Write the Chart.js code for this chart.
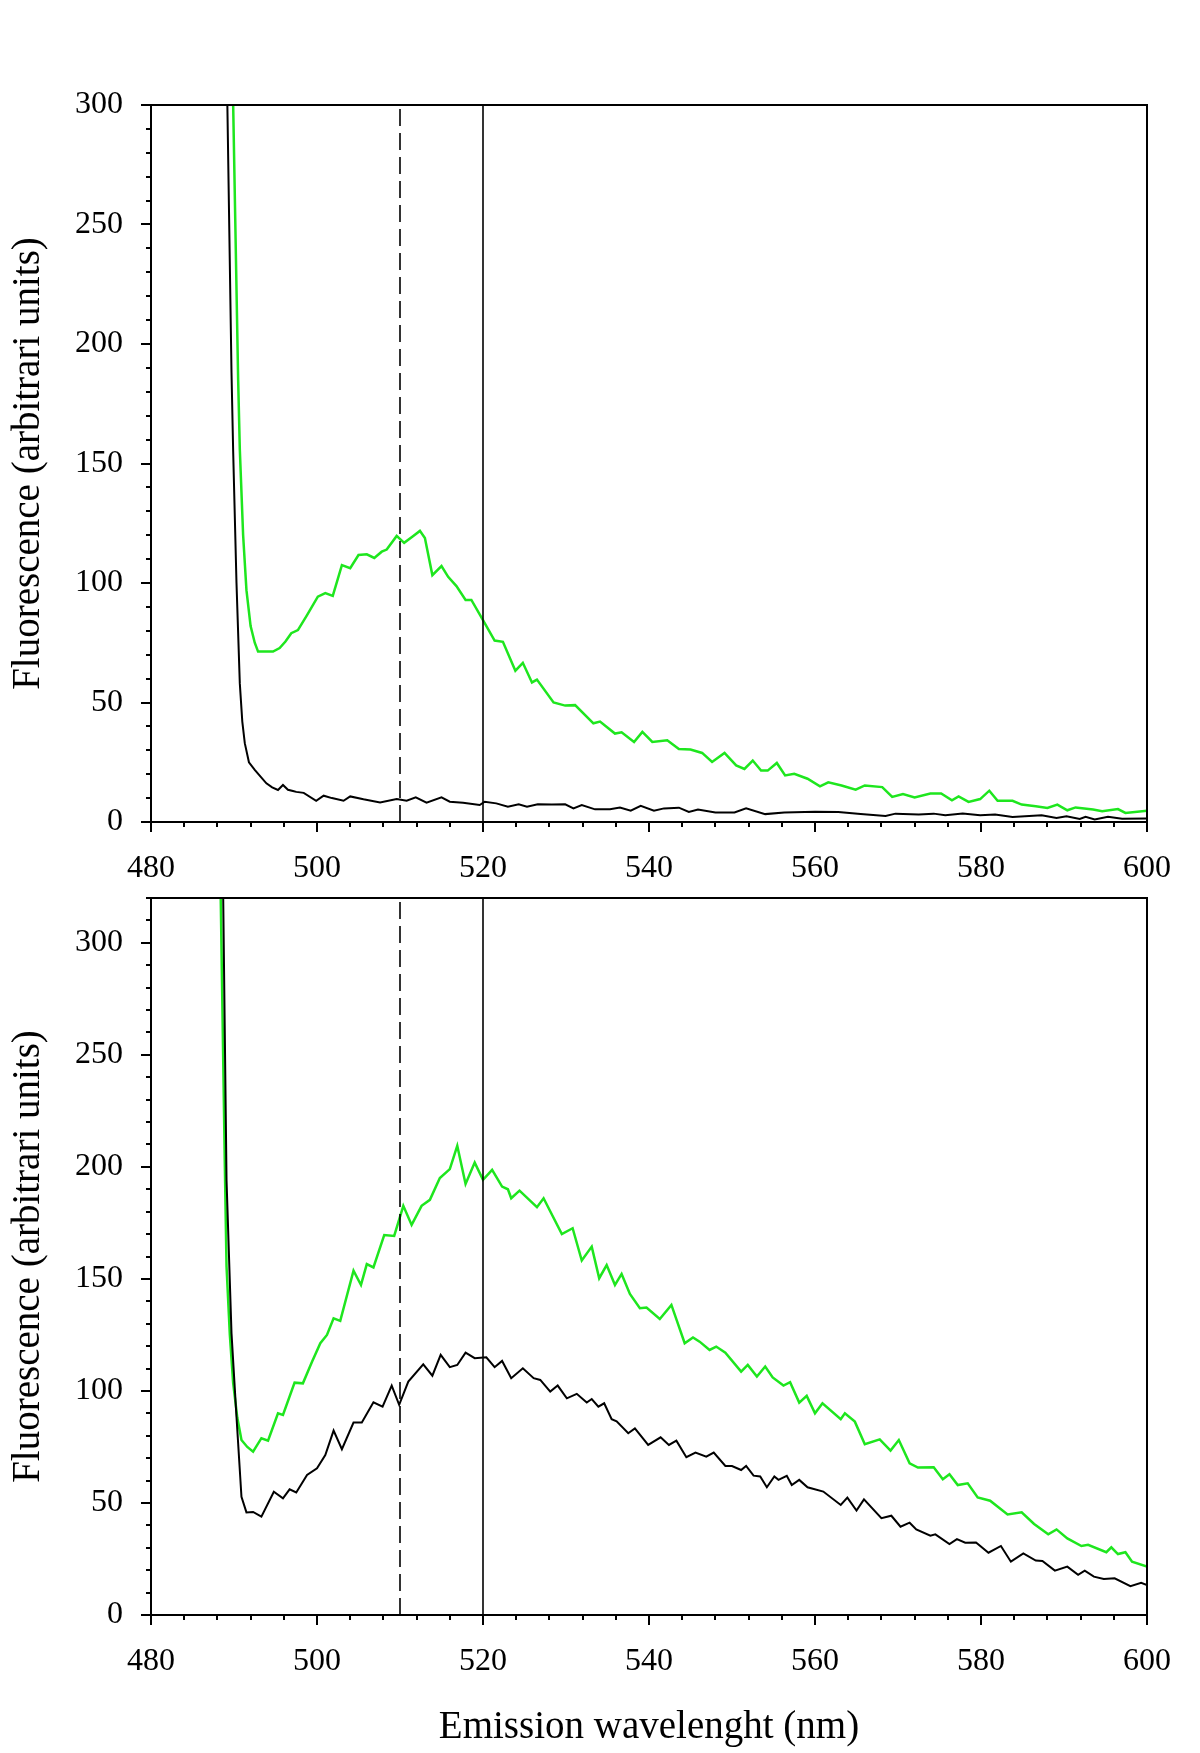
<!DOCTYPE html>
<html>
<head>
<meta charset="utf-8">
<title>Fluorescence emission spectra</title>
<script src="https://cdn.jsdelivr.net/npm/chart.js@4.4.1/dist/chart.umd.min.js"></script>
<style>
  html, body { margin: 0; padding: 0; background: #fff; }
  #wrap { position: relative; width: 1200px; height: 1753px; }
  canvas { position: absolute; left: 0; }
  #top-canvas { top: 0; }
  #bottom-canvas { top: 890px; }
</style>
</head>
<body>
<div id="wrap">
  <canvas id="top-canvas" width="1200" height="890"></canvas>
  <canvas id="bottom-canvas" width="1200" height="863"></canvas>
</div>
<script>
const FONT = '"Liberation Serif", "Times New Roman", serif';
const GREEN = '#1ee61e';

// axis ticks
const xTicks = [480, 500, 520, 540, 560, 580, 600];
const yTicks = [0, 50, 100, 150, 200, 250, 300];
const topYMax = 300;
const bottomYMax = 320;

// reference wavelengths (nm)
const markerDashed = 510;
const markerSolid = 520;

// top panel
const topGreenNm = [489.9, 490.5, 490.7, 491.1, 491.5, 492.0, 492.5, 492.9, 493.8, 494.7, 495.5, 496.2, 496.9, 497.7, 498.8, 500.1, 501.0, 501.9, 503.0, 504.0, 505.0, 506.0, 506.9, 507.8, 508.4, 509.6, 510.5, 511.6, 512.4, 513.0, 513.9, 515.0, 515.8, 516.8, 517.9, 518.6, 520.0, 521.4, 522.4, 523.9, 524.8, 525.9, 526.5, 528.5, 529.9, 531.1, 533.3, 534.1, 535.9, 536.7, 538.2, 539.2, 540.4, 542.2, 543.6, 545.0, 546.4, 547.6, 549.1, 550.5, 551.5, 552.5, 553.5, 554.3, 555.4, 556.4, 557.5, 559.1, 560.6, 561.6, 563.2, 564.9, 566.0, 568.1, 569.3, 570.6, 572.0, 573.9, 575.2, 576.5, 577.3, 578.5, 579.9, 581.0, 582.0, 583.8, 584.9, 586.6, 588.0, 589.2, 590.4, 591.4, 593.5, 594.6, 596.5, 597.4, 600.0];
const topGreenVal = [300, 185, 156, 120, 97, 82, 75, 71.3, 71.3, 71.3, 72.8, 75.5, 79, 80.3, 86.6, 94.3, 95.8, 94.6, 107.5, 106.2, 111.7, 112, 110.5, 113.1, 114, 119.7, 116.8, 119.7, 121.8, 118.8, 103.3, 107.1, 102.6, 98.7, 92.9, 92.9, 84.5, 75.9, 75.4, 63.3, 66.6, 58.4, 59.6, 50, 48.7, 48.9, 41.3, 42, 37, 37.5, 33.5, 37.7, 33.5, 34.2, 30.5, 30.3, 28.9, 25.1, 28.9, 23.7, 22.2, 25.7, 21.5, 21.5, 24.7, 19.5, 20.2, 18.1, 14.9, 16.6, 15.3, 13.5, 15.3, 14.6, 10.5, 11.7, 10.3, 11.9, 11.9, 9.1, 10.7, 8.4, 9.6, 13.1, 8.9, 8.9, 7.3, 6.6, 5.9, 7.3, 4.9, 6.1, 5.2, 4.5, 5.4, 3.8, 4.7];

const topBlackNm = [489.2, 489.7, 489.9, 490.3, 490.7, 491.0, 491.3, 491.8, 492.5, 493.2, 493.9, 494.6, 495.3, 495.9, 496.5, 497.1, 497.5, 498.4, 499.9, 500.8, 501.8, 503.2, 504.0, 505.6, 507.6, 509.6, 510.8, 511.9, 513.2, 515.0, 516.0, 517.6, 519.6, 520.2, 521.6, 523.0, 524.3, 525.3, 526.6, 528.3, 529.9, 530.9, 531.9, 533.5, 535.3, 536.5, 537.8, 539.0, 540.6, 541.8, 543.6, 544.8, 545.9, 548.0, 550.3, 551.7, 554.0, 556.3, 560.0, 562.8, 565.5, 568.5, 569.7, 572.5, 574.3, 575.7, 577.8, 579.9, 581.7, 583.8, 587.3, 589.1, 590.3, 591.9, 592.6, 593.7, 595.3, 597.0, 600.0];
const topBlackVal = [300, 188, 155, 100, 58, 42, 33, 25, 21.8, 19, 16.2, 14.5, 13.4, 15.5, 13.5, 13, 12.6, 12.2, 8.9, 11, 10, 8.9, 10.7, 9.5, 8.2, 9.6, 8.9, 10.3, 8.1, 10.3, 8.5, 8.1, 7.1, 8.5, 7.8, 6.4, 7.4, 6.4, 7.4, 7.3, 7.4, 5.7, 7.1, 5.3, 5.3, 6.1, 4.7, 6.8, 4.7, 5.7, 6.0, 4.2, 5.2, 4.0, 4.0, 5.7, 3.3, 4.0, 4.3, 4.2, 3.3, 2.5, 3.5, 3.1, 3.5, 2.8, 3.6, 2.8, 3.1, 2.1, 2.8, 1.7, 2.4, 1.3, 2.2, 1.1, 2.2, 1.4, 1.5];

// bottom panel
const bottomGreenNm = [488.4, 488.9, 489.1, 489.5, 489.9, 490.4, 490.9, 491.6, 492.3, 493.3, 494.1, 495.3, 495.9, 497.3, 498.3, 499.4, 500.4, 501.2, 502.0, 502.8, 504.4, 505.3, 506.0, 506.8, 508.1, 509.3, 510.4, 511.4, 512.6, 513.6, 514.8, 516.0, 516.9, 517.9, 519.0, 520.0, 521.1, 522.3, 523.0, 523.4, 524.4, 526.5, 527.3, 529.5, 530.8, 531.9, 533.1, 534.0, 534.9, 535.9, 536.7, 537.7, 538.9, 539.7, 541.3, 542.7, 544.3, 545.3, 546.1, 547.3, 548.1, 549.2, 551.1, 551.9, 553.0, 554.0, 554.9, 556.2, 557.0, 558.1, 559.0, 560.0, 560.9, 563.1, 563.6, 564.8, 566.0, 567.8, 569.1, 570.1, 571.4, 572.4, 574.3, 575.4, 576.2, 577.2, 578.4, 579.6, 581.1, 583.2, 584.9, 586.4, 588.1, 589.1, 590.4, 592.1, 592.9, 595.1, 595.7, 596.5, 597.4, 598.2, 600.0];
const bottomGreenVal = [320, 200, 155.5, 125, 103.5, 88, 78.1, 75, 72.9, 78.9, 77.8, 90, 89.3, 103.7, 103.4, 113, 121.3, 125, 132.4, 131.3, 153.7, 147.3, 156.6, 155.1, 169.6, 169.2, 182.6, 174.1, 182.6, 185.3, 195, 199, 209.4, 192.4, 201.9, 194.2, 198.7, 191.2, 190, 186, 189.4, 182, 186, 170, 172.6, 158.2, 164.4, 150.3, 156.2, 147.3, 152.2, 143.3, 136.9, 137.2, 132.1, 138.4, 121.3, 123.9, 122, 118.3, 119.8, 117.1, 108.6, 111.6, 106.4, 110.9, 106, 102.4, 103.9, 94.8, 97.8, 90, 94.5, 87.4, 90, 86.3, 76.2, 78.4, 73.4, 78.1, 67.7, 65.8, 65.9, 60.6, 62.8, 58, 58.8, 52.5, 51, 44.9, 45.8, 40.6, 36, 38.2, 34.2, 30.8, 31.3, 28, 30.2, 27.2, 28, 23.8, 21.6];

const bottomBlackNm = [488.7, 489.1, 489.7, 490.3, 490.9, 491.5, 492.3, 493.3, 494.8, 495.9, 496.7, 497.5, 498.8, 500.0, 501.0, 502.0, 503.0, 504.4, 505.4, 506.8, 507.9, 509.0, 509.9, 511.0, 512.8, 513.9, 514.9, 516.0, 516.9, 517.9, 519.0, 520.4, 521.4, 522.3, 523.4, 524.8, 526.1, 526.9, 528.1, 529.0, 530.1, 531.3, 532.5, 533.1, 533.9, 534.6, 535.5, 536.1, 537.5, 538.3, 539.9, 541.4, 542.4, 543.3, 544.5, 545.6, 546.9, 547.8, 549.2, 550.0, 551.1, 551.7, 552.6, 553.4, 554.2, 555.1, 555.6, 556.6, 557.2, 558.1, 559.1, 561.0, 563.1, 563.9, 565.0, 565.9, 568.0, 569.2, 570.3, 571.4, 572.2, 573.9, 574.5, 576.2, 577.1, 578.1, 579.4, 580.9, 582.4, 583.6, 585.1, 586.6, 587.4, 588.9, 590.4, 591.7, 592.5, 593.6, 594.8, 596.1, 598.0, 599.3, 600.0];
const bottomBlackVal = [320, 194, 125.7, 88.5, 52.8, 45.8, 46, 43.9, 55, 52.1, 56.1, 54.7, 62.5, 65.5, 71.4, 82.3, 74, 85.9, 85.9, 94.9, 93, 102.4, 93.8, 104.2, 111.9, 106.8, 116.1, 110.6, 111.6, 117.1, 114.6, 115, 110.6, 113.4, 105.7, 110.1, 105.7, 104.9, 99.7, 102.4, 96.7, 98.7, 94.8, 96.4, 93, 94.5, 87.4, 86.4, 81.1, 83.3, 75.9, 79.3, 75.9, 77.8, 70.4, 72.5, 70.7, 72.5, 66.5, 66.5, 64.7, 66.5, 62.2, 61.8, 57, 61.8, 60.3, 62.1, 58, 60.3, 57, 55.1, 49.1, 52.4, 46.6, 51.6, 43.2, 44.3, 39.4, 41.2, 38.2, 35.4, 36, 31.7, 33.9, 32.3, 32.4, 27.8, 30.8, 23.8, 27.5, 24.3, 24.1, 19.8, 21.6, 17.9, 19.8, 17.1, 16.1, 16.4, 12.9, 14.4, 13.4];

function toPoints(nm, val) {
  return nm.map((x, i) => ({ x, y: val[i] }));
}

function lineSet(nm, val, color, width) {
  return {
    data: toPoints(nm, val),
    borderColor: color,
    borderWidth: width,
    pointRadius: 0,
    tension: 0
  };
}

function markerSet(nm, yMax, dash) {
  return {
    data: [{ x: nm, y: 0 }, { x: nm, y: yMax }],
    borderColor: '#000',
    borderWidth: 1.6,
    borderDash: dash,
    pointRadius: 0
  };
}

// box around the plot + the small unlabelled ticks
const frameAndMinorTicks = {
  id: 'frameAndMinorTicks',
  afterDraw(chart) {
    const { ctx, chartArea: a, scales } = chart;
    ctx.save();
    ctx.strokeStyle = '#000';
    ctx.lineWidth = 2;
    ctx.strokeRect(a.left, a.top, a.right - a.left, a.bottom - a.top);
    ctx.beginPath();
    for (let v = scales.x.min; v <= scales.x.max; v += 4) {
      if (v % 20 === 0) continue;
      const px = Math.round(scales.x.getPixelForValue(v));
      ctx.moveTo(px, a.bottom);
      ctx.lineTo(px, a.bottom + 5);
    }
    for (let v = 0; v <= scales.y.max; v += 10) {
      if (v % 50 === 0) continue;
      const py = Math.round(scales.y.getPixelForValue(v));
      ctx.moveTo(a.left - 5, py);
      ctx.lineTo(a.left, py);
    }
    ctx.stroke();
    ctx.restore();
  }
};

function makeChart(canvasId, cfg) {
  return new Chart(document.getElementById(canvasId), {
    type: 'line',
    data: {
      datasets: [
        markerSet(markerDashed, cfg.yMax, [17, 7]),
        markerSet(markerSolid, cfg.yMax, []),
        lineSet(cfg.blackNm, cfg.blackVal, '#000', 2),
        lineSet(cfg.greenNm, cfg.greenVal, GREEN, 2.5)
      ]
    },
    plugins: [frameAndMinorTicks],
    options: {
      responsive: false,
      animation: false,
      devicePixelRatio: 1,
      layout: { padding: { top: cfg.padTop, right: 53, left: 0, bottom: 0 } },
      plugins: { legend: { display: false }, tooltip: { enabled: false } },
      scales: {
        x: {
          type: 'linear',
          min: 480,
          max: 600,
          afterBuildTicks: s => { s.ticks = xTicks.map(v => ({ value: v })); },
          afterFit: s => { s.height = cfg.xHeight; s.paddingLeft = 0; s.paddingRight = 0; },
          grid: { drawOnChartArea: false, tickLength: 10, lineWidth: 2, color: '#000' },
          border: { color: '#000', width: 2 },
          ticks: { color: '#000', font: { family: FONT, size: 32 }, padding: 17, maxRotation: 0 },
          title: {
            display: cfg.showXTitle,
            text: 'Emission wavelenght (nm)',
            color: '#000',
            font: { family: FONT, size: 39 },
            padding: { top: 0, bottom: 2 }
          }
        },
        y: {
          type: 'linear',
          min: 0,
          max: cfg.yMax,
          afterBuildTicks: s => { s.ticks = yTicks.map(v => ({ value: v })); },
          afterFit: s => { s.width = 151; s.paddingTop = 0; s.paddingBottom = 0; },
          grid: { drawOnChartArea: false, tickLength: 10, lineWidth: 2, color: '#000' },
          border: { color: '#000', width: 2 },
          ticks: { color: '#000', font: { family: FONT, size: 32 }, padding: 18 },
          title: {
            display: true,
            text: 'Fluorescence (arbitrari units)',
            color: '#000',
            font: { family: FONT, size: 39 },
            padding: { top: 5, bottom: 0 }
          }
        }
      }
    }
  });
}

makeChart('top-canvas', {
  yMax: topYMax, padTop: 105, xHeight: 68, showXTitle: false,
  greenNm: topGreenNm, greenVal: topGreenVal,
  blackNm: topBlackNm, blackVal: topBlackVal
});

makeChart('bottom-canvas', {
  yMax: bottomYMax, padTop: 8, xHeight: 138, showXTitle: true,
  greenNm: bottomGreenNm, greenVal: bottomGreenVal,
  blackNm: bottomBlackNm, blackVal: bottomBlackVal
});
</script>
</body>
</html>
